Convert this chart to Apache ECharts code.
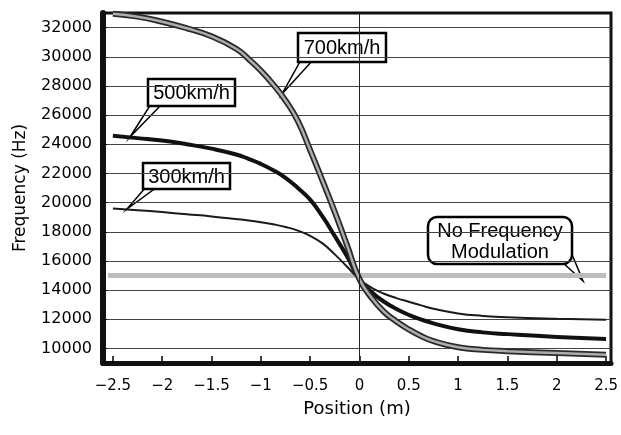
<!DOCTYPE html>
<html lang="en">
<head>
    <meta charset="UTF-8">
    <title>Frequency vs Position</title>
    <script src="https://cdn.jsdelivr.net/npm/echarts@6/dist/echarts.min.js"></script>
    <style>
        html, body {margin: 0; padding: 0; background: #fff;}
        #charts {width: 621px; height: 435px;}
    </style>
</head>
<body>
<div id="charts"></div>

<script>
    // positions along the track (m)
    var positions = [-2.5, -2.25, -2, -1.75, -1.5, -1.25, -1.125, -1, -0.875, -0.75, -0.625, -0.5,
        -0.375, -0.25, -0.125, 0, 0.125, 0.25, 0.375, 0.5, 0.625, 0.75, 1, 1.25, 1.5, 2, 2.5];

    // frequency (Hz), one value per position
    var freq700 = [32950, 32750, 32400, 31950, 31400, 30550, 29850, 29050, 28100, 27000, 25600, 23600,
        21500, 19350, 17050, 14750, 13450, 12500, 11850, 11300, 10850, 10500, 10080, 9900, 9810, 9680, 9570];
    var freq500 = [24580, 24420, 24250, 24000, 23700, 23300, 23000, 22650, 22220, 21700, 21000, 20200,
        19050, 17700, 16300, 14750, 13850, 13200, 12700, 12300, 11980, 11720, 11320, 11100, 10980, 10790, 10650];
    var freq300 = [19600, 19480, 19350, 19200, 19050, 18870, 18770, 18650, 18510, 18330, 18080, 17720,
        17200, 16450, 15600, 14750, 14150, 13750, 13450, 13200, 12950, 12720, 12400, 12230, 12130, 12030, 11970];

    // no frequency modulation reference line
    var nfmPositions = [-2.55, 2.5];
    var nfmFreq = [15000, 15000];

    // tick labels
    var xTicks = [-2.5, -2, -1.5, -1, -0.5, 0, 0.5, 1, 1.5, 2, 2.5];
    var yTicks = [10000, 12000, 14000, 16000, 18000, 20000, 22000, 24000, 26000, 28000, 30000, 32000];

    function pairs(xs, ys) {
        return xs.map(function (x, i) { return [x, ys[i]]; });
    }

    var boxFont = '20px "Liberation Sans", Arial, sans-serif';

    // callout box: wedge pointer + box + text
    function callout(x, y, w, h, wedge, text, r) {
        return {
            type: 'group',
            z: 100,
            children: [
                {type: 'polygon', shape: {points: wedge},
                    style: {fill: '#fff', stroke: '#000', lineWidth: 1.5}},
                {type: 'rect', shape: {x: x, y: y, width: w, height: h, r: r || 0},
                    style: {fill: '#fff', stroke: '#000', lineWidth: 2.5}},
                {type: 'text', x: x + w / 2, y: y + h / 2 + 1,
                    style: {text: text, font: boxFont, fill: '#000', align: 'center',
                        verticalAlign: 'middle', lineHeight: 21}}
            ]
        };
    }

    var chart = document.getElementById('charts');
    var myChart = echarts.init(chart, null, {renderer: 'canvas'});

    var curveStyle = {type: 'line', symbol: 'none', smooth: 0.5};

    var option = {
        backgroundColor: '#fff',
        animation: false,
        grid: {
            left: 103, right: 6, top: 13, bottom: 72,
            show: true, borderColor: '#111', borderWidth: 3
        },
        xAxis: {
            type: 'value', min: -2.6, max: 2.55,
            name: 'Position (m)', nameLocation: 'middle', nameGap: 37,
            nameTextStyle: {fontFamily: 'DejaVu Sans', fontSize: 18, color: '#000'},
            axisLine: {show: true, onZero: false, lineStyle: {color: '#111', width: 5}},
            axisTick: {show: true, inside: true, length: 7, customValues: xTicks,
                lineStyle: {color: '#000', width: 1.5}},
            axisLabel: {customValues: xTicks, margin: 16, color: '#000',
                fontFamily: 'DejaVu Sans', fontSize: 15,
                formatter: function (v) { return String(v).replace('-', '\u2212'); }},
            splitLine: {show: false}
        },
        yAxis: {
            type: 'value', min: 9000, max: 33000,
            name: 'Frequency (Hz)', nameLocation: 'middle', nameGap: 74,
            nameTextStyle: {fontFamily: 'DejaVu Sans', fontSize: 17, color: '#000'},
            axisLine: {show: true, onZero: false, lineStyle: {color: '#111', width: 6}},
            axisTick: {show: true, inside: true, length: 4, customValues: yTicks,
                lineStyle: {color: '#000'}},
            axisLabel: {customValues: yTicks, margin: 11, color: '#000',
                fontFamily: 'DejaVu Sans', fontSize: 16,
                formatter: function (v) { return String(v); }},
            splitLine: {show: true, lineStyle: {color: '#444', width: 1}}
        },
        series: [
            {
                name: 'No Frequency Modulation', type: 'line', symbol: 'none',
                data: pairs(nfmPositions, nfmFreq),
                lineStyle: {color: '#bdbdbd', width: 5}
            },
            Object.assign({
                name: '300km/h',
                data: pairs(positions, freq300),
                lineStyle: {color: '#1a1a1a', width: 2},
                markLine: {
                    silent: true, symbol: 'none', label: {show: false},
                    lineStyle: {color: '#222', width: 1, type: 'solid'},
                    data: [{xAxis: 0}]
                }
            }, curveStyle),
            Object.assign({
                name: '500km/h',
                data: pairs(positions, freq500),
                lineStyle: {color: '#111', width: 4}
            }, curveStyle),
            Object.assign({
                name: '700km/h',
                data: pairs(positions, freq700),
                lineStyle: {color: '#2a2a2a', width: 6}
            }, curveStyle),
            Object.assign({
                name: '700km/h fill',
                data: pairs(positions, freq700),
                lineStyle: {color: '#adadad', width: 2.5}
            }, curveStyle)
        ],
        graphic: [
            callout(298, 33, 88, 29, [[301, 60], [313, 60], [282, 94]], '700km/h'),
            callout(148, 79, 87, 27, [[151, 104], [162, 104], [130, 137]], '500km/h'),
            callout(143, 163, 87, 26, [[146, 187], [157, 187], [127, 209]], '300km/h'),
            callout(428, 217, 144, 47, [[562, 262], [571, 252], [583, 281]], 'No Frequency\nModulation', 9)
        ]
    };

    myChart.setOption(option);
</script>
</body>
</html>
